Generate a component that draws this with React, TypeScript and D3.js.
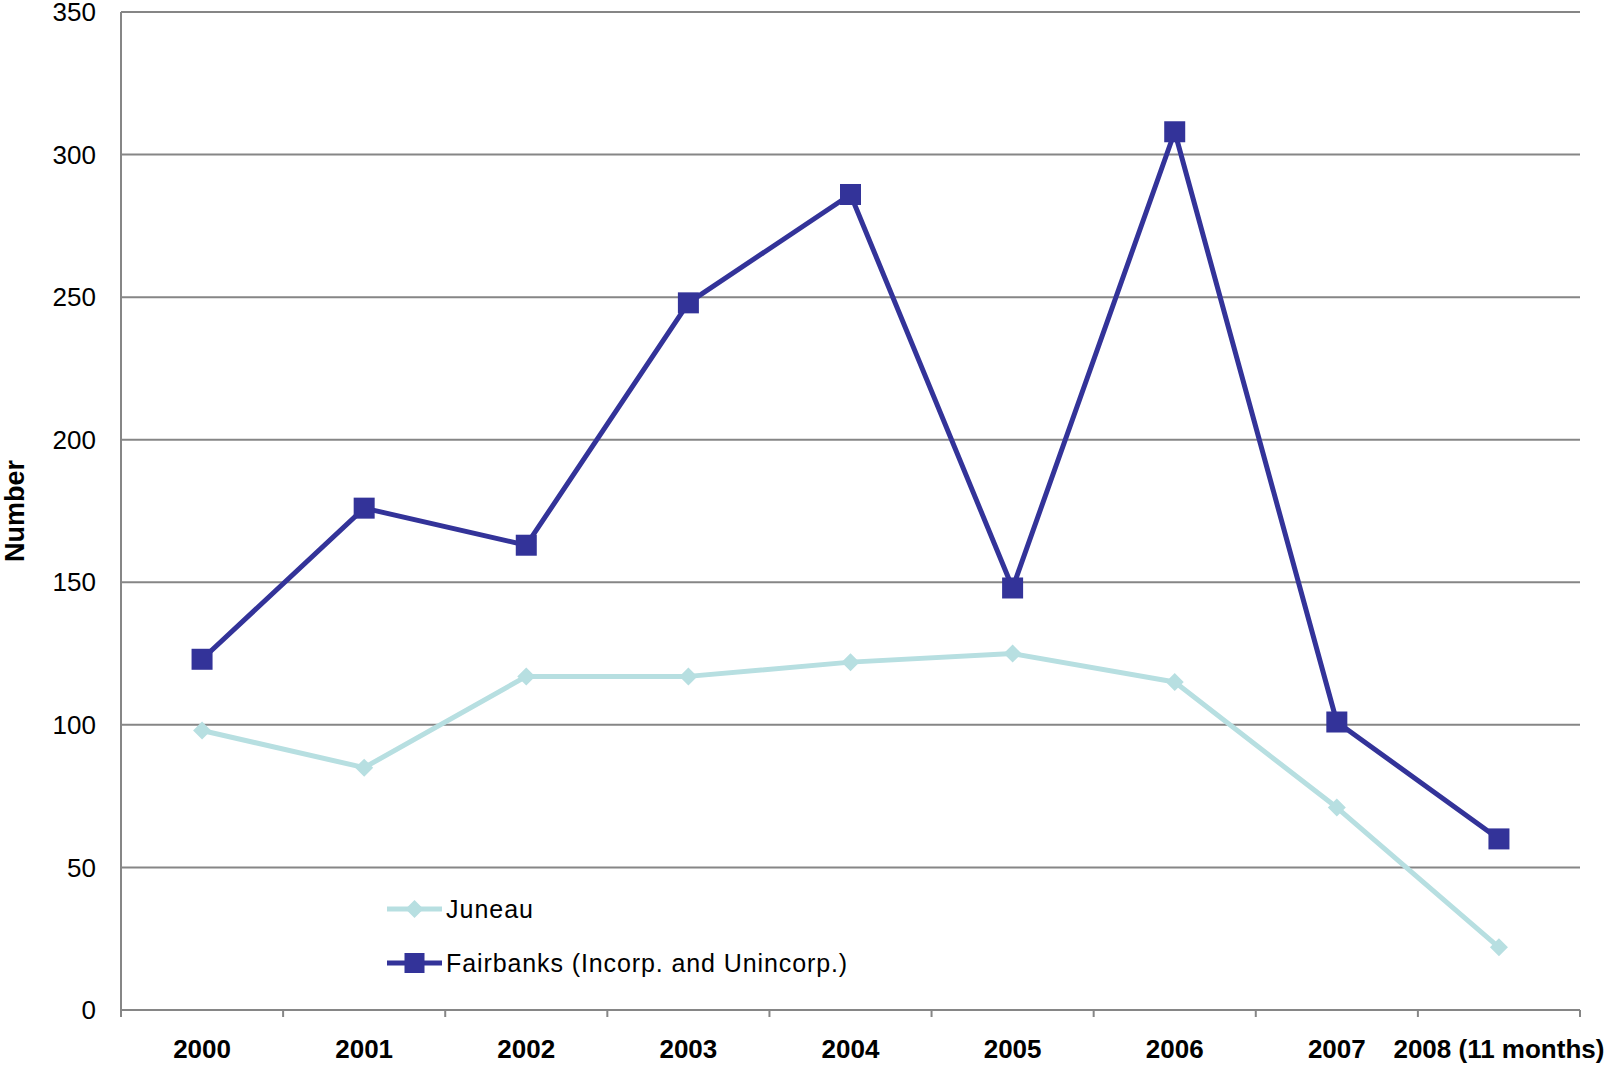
import React from "react";
import * as d3 from "d3";

const categories = ["2000", "2001", "2002", "2003", "2004", "2005", "2006", "2007", "2008 (11 months)"];
const juneau = [98, 85, 117, 117, 122, 125, 115, 71, 22];
const fairbanks = [123, 176, 163, 248, 286, 148, 308, 101, 60];
const yTicks = [0, 50, 100, 150, 200, 250, 300, 350];
const seriesNames = ["Juneau", "Fairbanks (Incorp. and Unincorp.)"];

const W = 1606;
const H = 1070;
const left = 121;
const right = 1580;
const top = 12;
const bottom = 1010;
const FONT = "'Liberation Sans', Arial, sans-serif";
const JUNEAU_COLOR = "#B7DFE1";
const FAIR_COLOR = "#333399";
const GRID = "#868686";

export default function App() {
  const x = d3.scaleBand<string>().domain(categories).range([left, right]).padding(0);
  const y = d3.scaleLinear().domain([0, 350]).range([bottom, top]);
  const cx = (c: string) => (x(c) as number) + x.bandwidth() / 2;

  const line = d3
    .line<number>()
    .x((_, i) => cx(categories[i]))
    .y((d) => y(d));

  const boundaries = categories.map((c) => x(c) as number).concat([right]);
  const diamond = (px: number, py: number, r: number) =>
    `M${px},${py - r}L${px + r},${py}L${px},${py + r}L${px - r},${py}Z`;
  const sq = 21;

  return (
    <svg
      width={W}
      height={H}
      style={{ position: "absolute", left: 0, top: 0, background: "#fff" }}
      fontFamily={FONT}
    >
      <rect x={0} y={0} width={W} height={H} fill="#fff" />
      {yTicks.map((t) => (
        <line key={t} x1={left} x2={right} y1={y(t)} y2={y(t)} stroke={GRID} strokeWidth={2} />
      ))}
      <line x1={left} x2={left} y1={top} y2={bottom} stroke={GRID} strokeWidth={2} />
      {boundaries.map((b, i) => (
        <line key={i} x1={b} x2={b} y1={bottom} y2={bottom + 7} stroke={GRID} strokeWidth={2} />
      ))}
      {yTicks.map((t) => (
        <text key={t} x={96} y={y(t)} dy="0.35em" textAnchor="end" fontSize={26} fill="#000">
          {t}
        </text>
      ))}
      {categories.map((c) => (
        <text key={c} x={cx(c)} y={1058} textAnchor="middle" fontSize={26} fontWeight="bold" fill="#000">
          {c}
        </text>
      ))}
      <text
        transform={`translate(24,511) rotate(-90)`}
        textAnchor="middle"
        fontSize={27}
        fontWeight="bold"
        fill="#000"
      >
        Number
      </text>
      <path d={line(juneau) || ""} fill="none" stroke={JUNEAU_COLOR} strokeWidth={5} strokeLinejoin="round" />
      {juneau.map((v, i) => (
        <path key={i} d={diamond(cx(categories[i]), y(v), 9)} fill={JUNEAU_COLOR} />
      ))}
      <path d={line(fairbanks) || ""} fill="none" stroke={FAIR_COLOR} strokeWidth={5} strokeLinejoin="round" />
      {fairbanks.map((v, i) => (
        <rect key={i} x={cx(categories[i]) - sq / 2} y={y(v) - sq / 2} width={sq} height={sq} fill={FAIR_COLOR} />
      ))}
      <g>
        <line x1={387} x2={442} y1={909} y2={909} stroke={JUNEAU_COLOR} strokeWidth={5} />
        <path d={diamond(414.5, 909, 9)} fill={JUNEAU_COLOR} />
        <text x={446} y={909} dy="0.35em" fontSize={25} letterSpacing={1} fill="#000">
          {seriesNames[0]}
        </text>
        <line x1={387} x2={442} y1={963} y2={963} stroke={FAIR_COLOR} strokeWidth={5} />
        <rect x={414.5 - 10} y={953} width={20} height={20} fill={FAIR_COLOR} />
        <text x={446} y={963} dy="0.35em" fontSize={25} letterSpacing={0.9} fill="#000">
          {seriesNames[1]}
        </text>
      </g>
    </svg>
  );
}
